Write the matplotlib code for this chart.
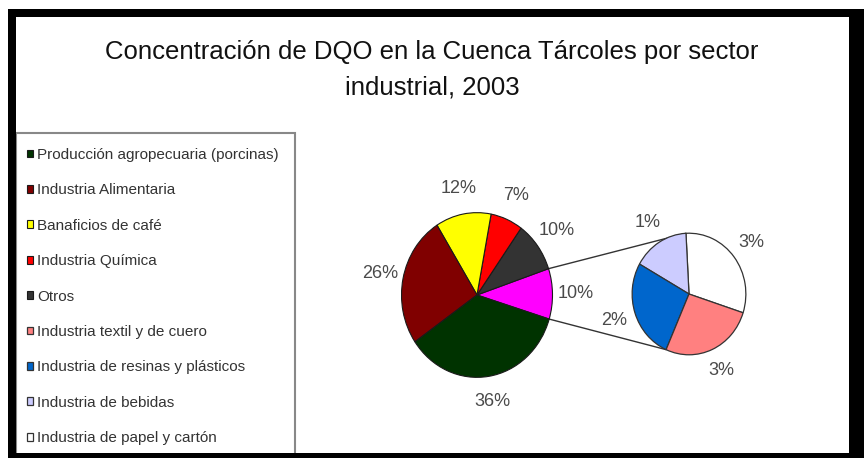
import matplotlib
matplotlib.use("Agg")
import matplotlib.pyplot as plt
from matplotlib.patches import Rectangle, ConnectionPatch
import numpy as np

# ---------------- data ----------------
title = "Concentración de DQO en la Cuenca Tárcoles por sector\nindustrial, 2003"

main_sectors = ["Otras industrias", "Otros", "Industria Química",
                "Banaficios de café", "Industria Alimentaria",
                "Producción agropecuaria (porcinas)"]
main_values = [10, 10, 7, 12, 26, 36]
main_labels = ["10%", "10%", "7%", "12%", "26%", "36%"]

sub_sectors = ["Industria de papel y cartón", "Industria de bebidas",
               "Industria de resinas y plásticos", "Industria textil y de cuero"]
sub_values = [2.9, 1.5, 2.5, 2.5]
sub_labels = ["3%", "1%", "2%", "3%"]

legend_order = ["Producción agropecuaria (porcinas)", "Industria Alimentaria",
                "Banaficios de café", "Industria Química", "Otros",
                "Industria textil y de cuero", "Industria de resinas y plásticos",
                "Industria de bebidas", "Industria de papel y cartón"]

# ---------------- styles ----------------
main_colors = ["#FF00FF", "#333333", "#FF0000", "#FFFF00", "#800000", "#003300"]
sub_colors = ["#FFFFFF", "#CCCCFF", "#0066CC", "#FF8080"]
FONT = "Liberation Sans"
W, H = 864, 458

fig = plt.figure(figsize=(W / 100, H / 100), dpi=100)
fig.patch.set_facecolor("white")


def px_axes(cx, cy, rx, ry, zorder=1):
    return fig.add_axes([(cx - rx) / W, 1 - (cy + ry) / H, 2 * rx / W, 2 * ry / H],
                        zorder=zorder)


# main pie
ax1 = px_axes(477, 295, 77, 84)
w1, t1 = ax1.pie(main_values, labels=main_labels, colors=main_colors,
                 startangle=-17, counterclock=True, labeldistance=1.31,
                 wedgeprops=dict(edgecolor="#1a1a1a", linewidth=0.8),
                 textprops=dict(fontsize=13, color="#4a4a4a", family=FONT))
ax1.set_aspect("auto")
ax1.set_xlim(-1.02, 1.02)
ax1.set_ylim(-1.02, 1.02)
for t in t1:
    t.set_ha("center")
    t.set_va("center")

# sub pie
ax2 = px_axes(689, 294, 58, 62)
w2, t2 = ax2.pie(sub_values, labels=sub_labels, colors=sub_colors,
                 startangle=-18, counterclock=True, labeldistance=1.38,
                 wedgeprops=dict(edgecolor="#333333", linewidth=0.9),
                 textprops=dict(fontsize=13, color="#4a4a4a", family=FONT))
ax2.set_aspect("auto")
ax2.set_xlim(-1.02, 1.02)
ax2.set_ylim(-1.02, 1.02)
for t in t2:
    t.set_ha("center")
    t.set_va("center")

# connection lines
agg = w1[0]
sub_top = w2[1].theta1
sub_bot = w2[3].theta1
for a_main, a_sub in [(agg.theta2, sub_top), (agg.theta1, sub_bot)]:
    p1 = (np.cos(np.radians(a_main)), np.sin(np.radians(a_main)))
    p2 = (np.cos(np.radians(a_sub)), np.sin(np.radians(a_sub)))
    con = ConnectionPatch(xyA=p1, coordsA=ax1.transData, xyB=p2, coordsB=ax2.transData,
                          color="#333333", linewidth=1.0)
    fig.add_artist(con)

# legend
handle_map = {}
for w, n in zip(w1, main_sectors):
    handle_map[n] = w
for w, n in zip(w2, sub_sectors):
    handle_map[n] = w
handles = [handle_map[n] for n in legend_order]
leg = fig.legend(handles, legend_order, loc="upper left",
                 bbox_to_anchor=(27 / W, 1 - 148 / H), frameon=False,
                 prop=dict(family=FONT, size=11), labelcolor="#333333",
                 handlelength=0.4, handleheight=0.4, handletextpad=0.25,
                 labelspacing=1.4, borderpad=0, borderaxespad=0)

# title
fig.text(432 / W, 1 - 70 / H, title, ha="center", va="center", fontsize=18.5,
         family=FONT, color="#111111", linespacing=1.6)

# overlay for frame and legend box
ov = fig.add_axes([0, 0, 1, 1], zorder=10)
ov.set_xlim(0, W)
ov.set_ylim(H, 0)
ov.axis("off")
ov.patch.set_visible(False)
ov.add_patch(Rectangle((16, 133), 279, 340, facecolor="none", edgecolor="#888888",
                       linewidth=1.5))
for (x, y, w, h) in [(8, 9, W - 8, 8), (8, 9, 8, H - 9), (849, 9, W - 849, H - 9),
                     (8, 453, W - 8, H - 453)]:
    ov.add_patch(Rectangle((x, y), w, h, facecolor="black", edgecolor="none"))

fig.savefig("out.png", dpi=100, facecolor="white")
